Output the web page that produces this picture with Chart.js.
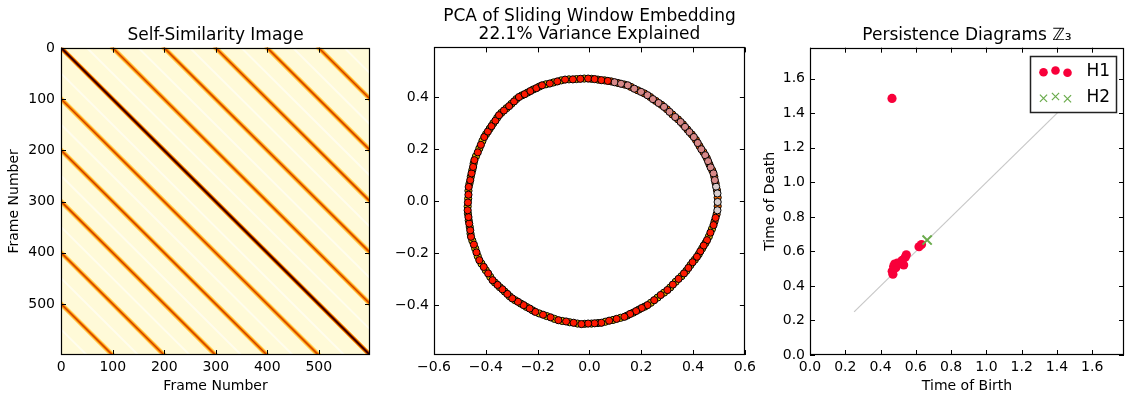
<!DOCTYPE html>
<html>
<head>
<meta charset="utf-8">
<script src="https://cdn.jsdelivr.net/npm/chart.js@4.4.1/dist/chart.umd.min.js"></script>
<style>
  html, body { margin: 0; padding: 0; background: #fff; }
  #wrap { position: relative; width: 1133px; height: 402px; }
  .panel { position: absolute; top: 0; height: 402px; }
</style>
</head>
<body>
<div id="wrap">
  <div class="panel" style="left:0;width:380px"><canvas id="ssm"></canvas></div>
  <div class="panel" style="left:380px;width:380px"><canvas id="pca"></canvas></div>
  <div class="panel" style="left:760px;width:373px"><canvas id="dgm"></canvas></div>
</div>
<script>
// ---- data ----
// self-similarity image: diagonal stripes (x - y = offset), period of 100 frames
var ssmTicks = [0, 100, 200, 300, 400, 500];
var stripeOffsets = [-500, -400, -300, -200, -100, 100, 200, 300, 400, 500];
var mainOffset = 0;
var gapOffsets = [-550, -450, -350, -250, -150, -50, 50, 150, 250, 350, 450, 550];

// PCA of sliding window embedding, front markers
var pcaRedX = [-0.005, 0.020, 0.046, 0.071,
  0.487, 0.479, 0.467, 0.454, 0.441, 0.428, 0.415, 0.398, 0.382, 0.365, 0.344, 0.322, 0.301, 0.275, 0.250,
  0.224, 0.202, 0.180, 0.157, 0.135, 0.105, 0.076, 0.046, 0.020, -0.005, -0.031, -0.061, -0.090, -0.120,
  -0.150, -0.179, -0.209, -0.231, -0.254, -0.276, -0.298, -0.317, -0.336, -0.355, -0.374, -0.391, -0.408,
  -0.425, -0.436, -0.446, -0.457, -0.460, -0.464, -0.467, -0.470, -0.469, -0.467, -0.466, -0.460, -0.455,
  -0.449, -0.444, -0.431, -0.419, -0.406, -0.392, -0.378, -0.363, -0.349, -0.330, -0.310, -0.291, -0.272,
  -0.250, -0.228, -0.205, -0.183, -0.153, -0.124, -0.094, -0.064, -0.035];
var pcaRedY = [0.472, 0.470, 0.466, 0.463,
  -0.064, -0.092, -0.121, -0.150, -0.171, -0.193, -0.214, -0.235, -0.257, -0.278, -0.299, -0.321, -0.342, -0.361, -0.381,
  -0.400, -0.411, -0.423, -0.434, -0.445, -0.453, -0.460, -0.468, -0.470, -0.471, -0.473, -0.468, -0.463, -0.458,
  -0.447, -0.437, -0.426, -0.413, -0.400, -0.387, -0.374, -0.357, -0.339, -0.322, -0.304, -0.278, -0.253,
  -0.227, -0.197, -0.167, -0.137, -0.112, -0.086, -0.061, -0.035, -0.005, 0.025, 0.055, 0.081, 0.107,
  0.132, 0.158, 0.188, 0.217, 0.247, 0.268, 0.289, 0.310, 0.331, 0.349, 0.366, 0.384, 0.401,
  0.412, 0.424, 0.435, 0.446, 0.453, 0.461, 0.468, 0.469, 0.471];
var pcaPinkX = [0.097, 0.122, 0.148, 0.173, 0.199, 0.224, 0.245, 0.267, 0.288, 0.309, 0.331, 0.352,
  0.369, 0.386, 0.403, 0.418, 0.432, 0.447, 0.458, 0.468, 0.479, 0.484];
var pcaPinkY = [0.458, 0.452, 0.446, 0.433, 0.421, 0.408, 0.393, 0.378, 0.363, 0.344, 0.324, 0.305,
  0.286, 0.266, 0.247, 0.224, 0.200, 0.177, 0.154, 0.130, 0.107, 0.081];
var pcaPaleX = [0.489, 0.494, 0.495, 0.494];
var pcaPaleY = [0.056, 0.030, -0.003, -0.035];
// markers partly hidden behind the front ones
var pcaOrangeX = [0.084, 0.110, 0.135, 0.160, 0.186, 0.212, 0.235, 0.256, 0.278, 0.299, 0.320, 0.342,
  0.361, 0.378, 0.395, 0.411, 0.425, 0.440, 0.453, 0.463, 0.474, 0.482, 0.487, 0.492, 0.495, 0.495, 0.491, 0.483];
var pcaOrangeY = [0.461, 0.455, 0.449, 0.440, 0.427, 0.415, 0.401, 0.386, 0.371, 0.354, 0.334, 0.315,
  0.296, 0.276, 0.257, 0.236, 0.212, 0.189, 0.166, 0.142, 0.119, 0.094, 0.069, 0.043, 0.014, -0.019, -0.050, -0.078];
var pcaYellowX = [0.473, 0.461, 0.448, 0.435, 0.422, 0.407, 0.390, 0.374, 0.355, 0.333, 0.312, 0.288,
  0.263, 0.237, 0.213, 0.191, 0.169, 0.146, 0.120, 0.091, 0.061, 0.033, 0.008, -0.018, -0.046, -0.076,
  -0.105, -0.135, -0.165, -0.194, -0.220, -0.243, -0.265, -0.287, -0.308, -0.327, -0.346, -0.365, -0.383,
  -0.400, -0.417, -0.431, -0.441, -0.452, -0.459, -0.462, -0.466, -0.469, -0.470, -0.468, -0.467, -0.463,
  -0.458, -0.452, -0.447, -0.438, -0.425, -0.413, -0.399, -0.385, -0.371, -0.356, -0.340, -0.320, -0.301,
  -0.282, -0.261, -0.239, -0.217, -0.194, -0.168, -0.139, -0.109, -0.079, -0.050, -0.020, 0.008, 0.033, 0.059];
var pcaYellowY = [-0.107, -0.136, -0.161, -0.182, -0.204, -0.225, -0.246, -0.268, -0.289, -0.310, -0.332, -0.352,
  -0.371, -0.391, -0.406, -0.417, -0.429, -0.440, -0.449, -0.457, -0.464, -0.469, -0.471, -0.472, -0.471, -0.466,
  -0.461, -0.453, -0.442, -0.432, -0.420, -0.407, -0.394, -0.381, -0.366, -0.348, -0.331, -0.313, -0.291,
  -0.266, -0.240, -0.212, -0.182, -0.152, -0.125, -0.099, -0.074, -0.048, -0.020, 0.010, 0.040, 0.068,
  0.094, 0.120, 0.145, 0.173, 0.203, 0.232, 0.258, 0.279, 0.300, 0.321, 0.340, 0.358, 0.375,
  0.393, 0.407, 0.418, 0.430, 0.441, 0.450, 0.457, 0.465, 0.469, 0.470, 0.472, 0.471, 0.468, 0.465];
var pcaXTicks = [-0.6, -0.4, -0.2, 0, 0.2, 0.4, 0.6];
var pcaYTicks = [-0.4, -0.2, 0, 0.2, 0.4];

// persistence diagrams
var h1Birth = [0.465, 0.466, 0.470, 0.474, 0.480, 0.486, 0.495, 0.508, 0.522, 0.531, 0.540, 0.546, 0.618, 0.632];
var h1Death = [1.486, 0.485, 0.468, 0.512, 0.527, 0.505, 0.532, 0.530, 0.548, 0.522, 0.566, 0.580, 0.627, 0.640];
var h2Birth = [0.664];
var h2Death = [0.666];
var diagRange = [0.25, 1.55];
var dgmTicks = [0, 0.2, 0.4, 0.6, 0.8, 1.0, 1.2, 1.4, 1.6];

// ---- helpers ----
Chart.defaults.font.family = '"DejaVu Sans", sans-serif';
Chart.defaults.color = '#000';

var FONT_TICK = { size: 14 };
var FONT_LABEL = { size: 14 };
var FONT_TITLE = { size: 17, weight: 'normal', lineHeight: 1.1 };
var h1Color = '#f8003a';
var h2Color = '#6aab4c';

function pts(xs, ys) {
  return xs.map(function (x, i) { return { x: x, y: ys[i] }; });
}
function fmt(dec) {
  return function (v) { return Number(v).toFixed(dec).replace('-', '\u2212'); };
}

function axis(opts) {
  return {
    type: 'linear',
    position: opts.position,
    min: opts.min, max: opts.max,
    reverse: !!opts.reverse,
    grid: { display: false, drawTicks: false },
    border: { display: false },
    ticks: { font: FONT_TICK, padding: opts.pad, autoSkip: false, maxRotation: 0, callback: opts.fmt },
    title: opts.title ? { display: true, text: opts.title, font: FONT_LABEL, padding: opts.titlePad } : { display: false },
    afterBuildTicks: function (s) { s.ticks = opts.ticks.map(function (v) { return { value: v }; }); },
    afterFit: function (s) {
      if (s.isHorizontal()) s.height = opts.size; else s.width = opts.size;
    }
  };
}

// black frame and inward tick marks on all four sides
var frameTicks = {
  id: 'frameTicks',
  afterDatasetsDraw: function (chart) {
    var ctx = chart.ctx, a = chart.chartArea, sx = chart.scales.x, sy = chart.scales.y;
    var L = 5;
    ctx.save();
    ctx.strokeStyle = '#000';
    ctx.lineWidth = 1;
    ctx.beginPath();
    sx.ticks.forEach(function (t) {
      var p = Math.round(sx.getPixelForValue(t.value)) + 0.5;
      ctx.moveTo(p, a.top); ctx.lineTo(p, a.top + L);
      ctx.moveTo(p, a.bottom); ctx.lineTo(p, a.bottom - L);
    });
    sy.ticks.forEach(function (t) {
      var p = Math.round(sy.getPixelForValue(t.value)) + 0.5;
      ctx.moveTo(a.left, p); ctx.lineTo(a.left + L, p);
      ctx.moveTo(a.right, p); ctx.lineTo(a.right - L, p);
    });
    ctx.stroke();
    ctx.lineWidth = 1.2;
    ctx.strokeRect(Math.round(a.left) + 0.5, Math.round(a.top) + 0.5,
      Math.round(a.width) - 1, Math.round(a.height) - 1);
    ctx.restore();
  }
};

var areaFill = {
  id: 'areaFill',
  beforeDatasetsDraw: function (chart, args, o) {
    if (!o.color) return;
    var a = chart.chartArea;
    chart.ctx.save();
    chart.ctx.fillStyle = o.color;
    chart.ctx.fillRect(a.left, a.top, a.width, a.height);
    chart.ctx.restore();
  }
};

var base = {
  responsive: true,
  maintainAspectRatio: false,
  animation: false,
  events: [],
  plugins: { legend: { display: false }, tooltip: { enabled: false } }
};

function withBase(extra) {
  var o = JSON.parse(JSON.stringify(base));
  for (var k in extra) o[k] = extra[k];
  o.plugins = Object.assign({}, base.plugins, extra.plugins || {});
  return o;
}

// ---- 1: self-similarity image ----
function stripe(d, color, width) {
  var x0 = Math.max(-0.5, d - 0.5) - 3, x1 = Math.min(599.5, 599.5 + d) + 3;
  return {
    data: [{ x: x0, y: x0 - d }, { x: x1, y: x1 - d }],
    showLine: true, pointRadius: 0, borderColor: color, borderWidth: width,
    borderCapStyle: 'butt', fill: false
  };
}
var ssmSets = [];
ssmSets.push(stripe(mainOffset, '#2a0000', 1.4));
ssmSets.push(stripe(mainOffset, '#a01c00', 2.8));
ssmSets.push(stripe(mainOffset, '#ff9a00', 4.6));
stripeOffsets.forEach(function (d) { ssmSets.push(stripe(d, '#c43c00', 1.1)); });
stripeOffsets.forEach(function (d) { ssmSets.push(stripe(d, '#ff8800', 3.0)); });
stripeOffsets.forEach(function (d) { ssmSets.push(stripe(d, '#ffd660', 5.0)); });
gapOffsets.forEach(function (d) { ssmSets.push(stripe(d, 'rgba(255,255,255,0.55)', 2)); });

new Chart(document.getElementById('ssm'), {
  type: 'scatter',
  data: { datasets: ssmSets },
  options: withBase({
    layout: { padding: { top: 26, right: 10, bottom: 0, left: 0 } },
    scales: {
      x: axis({ position: 'bottom', min: -0.5, max: 599.5, ticks: ssmTicks, fmt: fmt(0), pad: 4,
        title: 'Frame Number', titlePad: { top: 0, bottom: 7 }, size: 47 }),
      y: axis({ position: 'left', min: -0.5, max: 599.5, reverse: true, ticks: ssmTicks, fmt: fmt(0), pad: 6,
        title: 'Frame Number', titlePad: { top: 6, bottom: 0 }, size: 61 })
    },
    plugins: {
      title: { display: true, text: 'Self-Similarity Image', font: FONT_TITLE, fullSize: false,
        padding: { top: 0, bottom: 3 } },
      areaFill: { color: '#fffad8' }
    }
  }),
  plugins: [areaFill, frameTicks]
});

// ---- 2: PCA scatter ----
function dots(xs, ys, face) {
  return {
    data: pts(xs, ys), pointRadius: 3.6, pointBackgroundColor: face,
    pointBorderColor: '#000', pointBorderWidth: 1
  };
}
new Chart(document.getElementById('pca'), {
  type: 'scatter',
  data: {
    datasets: [
      dots(pcaRedX, pcaRedY, '#ff1800'),
      dots(pcaPinkX, pcaPinkY, '#d88888'),
      dots(pcaPaleX, pcaPaleY, '#d8cccc'),
      dots(pcaOrangeX, pcaOrangeY, '#ff6a00'),
      dots(pcaYellowX, pcaYellowY, '#e8c000')
    ]
  },
  options: withBase({
    layout: { padding: { top: 7, right: 12, bottom: 0, left: 0 } },
    scales: {
      x: axis({ position: 'bottom', min: -0.6, max: 0.6, ticks: pcaXTicks, fmt: fmt(1), pad: 4, size: 47 }),
      y: axis({ position: 'left', min: -0.592, max: 0.592, ticks: pcaYTicks, fmt: fmt(1), pad: 5, size: 54 })
    },
    plugins: {
      title: { display: true, text: ['PCA of Sliding Window Embedding', '22.1% Variance Explained'],
        font: FONT_TITLE, fullSize: false, padding: { top: 0, bottom: 3 } }
    }
  }),
  plugins: [frameTicks]
});

// ---- 3: persistence diagrams ----
var dgmLegend = {
  id: 'dgmLegend',
  afterDraw: function (chart) {
    var ctx = chart.ctx, a = chart.chartArea;
    var w = 86, h = 56;
    var x0 = Math.round(a.right - 8 - w) + 0.5, y0 = Math.round(a.top + 8) + 0.5;
    var wobble = [0.7, -1, 1.3];
    ctx.save();
    ctx.fillStyle = '#fff';
    ctx.fillRect(x0, y0, w, h);
    ctx.lineWidth = 1.5;
    ctx.strokeStyle = '#222';
    ctx.strokeRect(x0, y0, w, h);
    [13, 25, 37].forEach(function (dx, i) {
      ctx.fillStyle = h1Color;
      ctx.beginPath();
      ctx.arc(x0 + dx, y0 + 15 + wobble[i], 4.3, 0, Math.PI * 2);
      ctx.fill();
      var cx = x0 + dx, cy = y0 + 41 + wobble[i], r = 3.6;
      ctx.strokeStyle = h2Color;
      ctx.lineWidth = 1.2;
      ctx.beginPath();
      ctx.moveTo(cx - r, cy - r); ctx.lineTo(cx + r, cy + r);
      ctx.moveTo(cx - r, cy + r); ctx.lineTo(cx + r, cy - r);
      ctx.stroke();
    });
    ctx.fillStyle = '#000';
    ctx.font = '17px "DejaVu Sans"';
    ctx.textBaseline = 'middle';
    ctx.fillText(chart.data.datasets[1].label, x0 + 56, y0 + 15);
    ctx.fillText(chart.data.datasets[0].label, x0 + 56, y0 + 41);
    ctx.restore();
  }
};

new Chart(document.getElementById('dgm'), {
  type: 'scatter',
  data: {
    datasets: [
      { label: 'H2', data: pts(h2Birth, h2Death), pointStyle: 'crossRot', pointRadius: 6.5,
        pointBorderColor: h2Color, pointBorderWidth: 2 },
      { label: 'H1', data: pts(h1Birth, h1Death), pointRadius: 4.6, pointBackgroundColor: h1Color,
        pointBorderWidth: 0 },
      { label: 'diagonal', data: pts(diagRange, diagRange), showLine: true, pointRadius: 0,
        borderColor: '#c8c8c8', borderWidth: 1.2 }
    ]
  },
  options: withBase({
    layout: { padding: { top: 26, right: 9, bottom: 0, left: 0 } },
    scales: {
      x: axis({ position: 'bottom', min: 0, max: 1.78, ticks: dgmTicks, fmt: fmt(1), pad: 4,
        title: 'Time of Birth', titlePad: { top: 0, bottom: 7 }, size: 47 }),
      y: axis({ position: 'left', min: 0, max: 1.78, ticks: dgmTicks, fmt: fmt(1), pad: 5,
        title: 'Time of Death', titlePad: { top: 2, bottom: 0 }, size: 50 })
    },
    plugins: {
      title: { display: true, text: 'Persistence Diagrams \u2124\u2083', font: FONT_TITLE, fullSize: false,
        padding: { top: 0, bottom: 3 } }
    }
  }),
  plugins: [frameTicks, dgmLegend]
});
</script>
</body>
</html>
